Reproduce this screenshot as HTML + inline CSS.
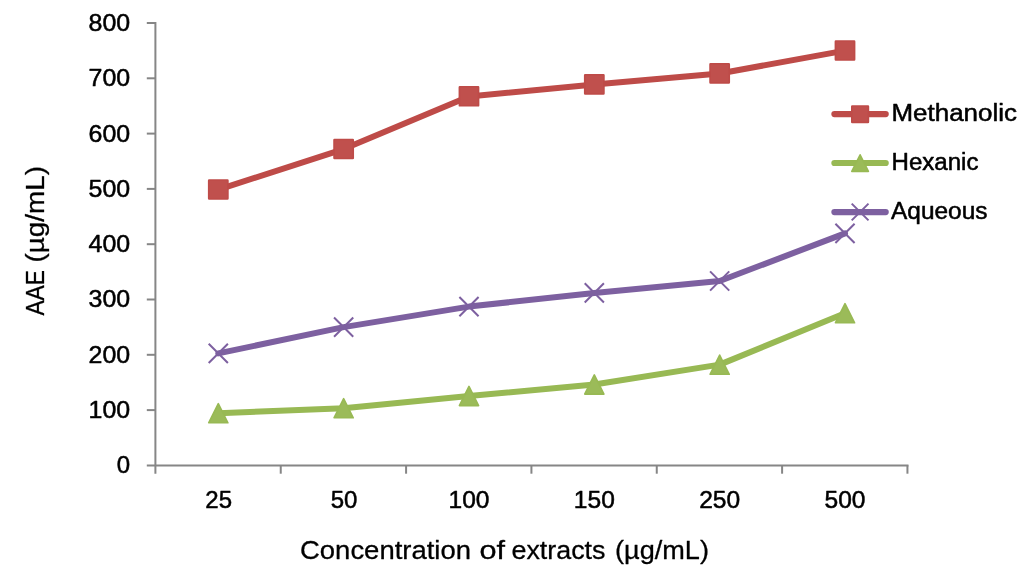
<!DOCTYPE html>
<html><head><meta charset="utf-8"><title>chart</title>
<style>
html,body{margin:0;padding:0;background:#fff;}
body{width:1024px;height:578px;overflow:hidden;font-family:"Liberation Sans",sans-serif;}
svg{display:block;will-change:transform;}
text{font-family:"Liberation Sans",sans-serif;fill:#000;stroke:#000;stroke-width:0.5px;stroke-linejoin:round;}
</style></head><body>
<svg width="1024" height="578" viewBox="0 0 1024 578">
<rect width="1024" height="578" fill="#fff"/>

<g stroke="#868686" stroke-width="2" fill="none">
<path d="M155.4 22 V473.7"/>
<path d="M146.8 465.4 H908.5"/>
<path d="M146.8 410.10 H155.4"/>
<path d="M146.8 354.80 H155.4"/>
<path d="M146.8 299.50 H155.4"/>
<path d="M146.8 244.20 H155.4"/>
<path d="M146.8 188.90 H155.4"/>
<path d="M146.8 133.60 H155.4"/>
<path d="M146.8 78.30 H155.4"/>
<path d="M146.8 23.00 H155.4"/>
<path d="M280.74 465.4 V473.7"/>
<path d="M406.08 465.4 V473.7"/>
<path d="M531.42 465.4 V473.7"/>
<path d="M656.76 465.4 V473.7"/>
<path d="M782.10 465.4 V473.7"/>
<path d="M907.44 465.4 V473.7"/>
</g>
<g font-size="24" text-anchor="end">
<text x="130.2" y="473.30">0</text>
<text x="130.2" y="418.00" textLength="41.6" lengthAdjust="spacingAndGlyphs">100</text>
<text x="130.2" y="362.70" textLength="41.6" lengthAdjust="spacingAndGlyphs">200</text>
<text x="130.2" y="307.40" textLength="41.6" lengthAdjust="spacingAndGlyphs">300</text>
<text x="130.2" y="252.10" textLength="41.6" lengthAdjust="spacingAndGlyphs">400</text>
<text x="130.2" y="196.80" textLength="41.6" lengthAdjust="spacingAndGlyphs">500</text>
<text x="130.2" y="141.50" textLength="41.6" lengthAdjust="spacingAndGlyphs">600</text>
<text x="130.2" y="86.20" textLength="41.6" lengthAdjust="spacingAndGlyphs">700</text>
<text x="130.2" y="30.90" textLength="41.6" lengthAdjust="spacingAndGlyphs">800</text>
</g>
<g font-size="24" text-anchor="middle">
<text x="218.70" y="508.3">25</text>
<text x="344.04" y="508.3">50</text>
<text x="468.98" y="508.3" textLength="41.0" lengthAdjust="spacingAndGlyphs">100</text>
<text x="594.32" y="508.3" textLength="41.0" lengthAdjust="spacingAndGlyphs">150</text>
<text x="719.66" y="508.3" textLength="41.0" lengthAdjust="spacingAndGlyphs">250</text>
<text x="845.00" y="508.3" textLength="41.0" lengthAdjust="spacingAndGlyphs">500</text>
</g>
<text x="300.0" y="558.7" font-size="26" style="stroke-width:0.3px" textLength="171.0" lengthAdjust="spacingAndGlyphs">Concentration</text>
<text x="479.5" y="558.7" font-size="26" style="stroke-width:0.3px" textLength="25.5" lengthAdjust="spacingAndGlyphs">of</text>
<text x="511.5" y="558.7" font-size="26" style="stroke-width:0.3px" textLength="94.0" lengthAdjust="spacingAndGlyphs">extracts</text>
<text x="615.0" y="558.7" font-size="26" style="stroke-width:0.3px" textLength="94.0" lengthAdjust="spacingAndGlyphs">(µg/mL)</text>
<text transform="translate(43.8 315.6) rotate(-90)" font-size="25.5" style="stroke-width:0.3px" textLength="45.6" lengthAdjust="spacingAndGlyphs">AAE</text>
<text transform="translate(43.8 262.6) rotate(-90)" font-size="25.5" style="stroke-width:0.3px" textLength="96.6" lengthAdjust="spacingAndGlyphs">(µg/mL)</text>
<polyline points="218.30,189.60 343.64,149.10 468.98,96.40 594.32,84.50 719.66,73.50 845.00,50.60" fill="none" stroke="#BE4B48" stroke-width="6.0" stroke-linejoin="round" stroke-linecap="round"/>
<rect x="208.70" y="180.00" width="19.2" height="19.0" rx="0.4" fill="#C0504D" stroke="#BE4B48" stroke-width="1.6" stroke-linejoin="round"/>
<rect x="334.04" y="139.50" width="19.2" height="19.0" rx="0.4" fill="#C0504D" stroke="#BE4B48" stroke-width="1.6" stroke-linejoin="round"/>
<rect x="459.38" y="86.80" width="19.2" height="19.0" rx="0.4" fill="#C0504D" stroke="#BE4B48" stroke-width="1.6" stroke-linejoin="round"/>
<rect x="584.72" y="74.90" width="19.2" height="19.0" rx="0.4" fill="#C0504D" stroke="#BE4B48" stroke-width="1.6" stroke-linejoin="round"/>
<rect x="710.06" y="63.90" width="19.2" height="19.0" rx="0.4" fill="#C0504D" stroke="#BE4B48" stroke-width="1.6" stroke-linejoin="round"/>
<rect x="835.40" y="41.00" width="19.2" height="19.0" rx="0.4" fill="#C0504D" stroke="#BE4B48" stroke-width="1.6" stroke-linejoin="round"/>
<polyline points="218.30,413.20 343.64,408.20 468.98,396.00 594.32,384.50 719.66,364.65 845.00,313.20" fill="none" stroke="#98B954" stroke-width="6.0" stroke-linejoin="round" stroke-linecap="round"/>
<path d="M218.30 403.60 L227.90 422.80 H208.70 Z" fill="#9BBB59" stroke="#98B954" stroke-width="1.6" stroke-linejoin="round"/>
<path d="M343.64 398.60 L353.24 417.80 H334.04 Z" fill="#9BBB59" stroke="#98B954" stroke-width="1.6" stroke-linejoin="round"/>
<path d="M468.98 386.40 L478.58 405.60 H459.38 Z" fill="#9BBB59" stroke="#98B954" stroke-width="1.6" stroke-linejoin="round"/>
<path d="M594.32 374.90 L603.92 394.10 H584.72 Z" fill="#9BBB59" stroke="#98B954" stroke-width="1.6" stroke-linejoin="round"/>
<path d="M719.66 355.05 L729.26 374.25 H710.06 Z" fill="#9BBB59" stroke="#98B954" stroke-width="1.6" stroke-linejoin="round"/>
<path d="M845.00 303.60 L854.60 322.80 H835.40 Z" fill="#9BBB59" stroke="#98B954" stroke-width="1.6" stroke-linejoin="round"/>
<polyline points="218.30,353.40 343.64,327.10 468.98,306.60 594.32,292.90 719.66,281.00 845.00,233.40" fill="none" stroke="#7D60A0" stroke-width="6.0" stroke-linejoin="round" stroke-linecap="round"/>
<path d="M208.70 343.80 L227.90 363.00 M208.70 363.00 L227.90 343.80" stroke="#7D60A0" stroke-width="2.0" fill="none" stroke-linecap="butt"/>
<path d="M334.04 317.50 L353.24 336.70 M334.04 336.70 L353.24 317.50" stroke="#7D60A0" stroke-width="2.0" fill="none" stroke-linecap="butt"/>
<path d="M459.38 297.00 L478.58 316.20 M459.38 316.20 L478.58 297.00" stroke="#7D60A0" stroke-width="2.0" fill="none" stroke-linecap="butt"/>
<path d="M584.72 283.30 L603.92 302.50 M584.72 302.50 L603.92 283.30" stroke="#7D60A0" stroke-width="2.0" fill="none" stroke-linecap="butt"/>
<path d="M710.06 271.40 L729.26 290.60 M710.06 290.60 L729.26 271.40" stroke="#7D60A0" stroke-width="2.0" fill="none" stroke-linecap="butt"/>
<path d="M835.40 223.80 L854.60 243.00 M835.40 243.00 L854.60 223.80" stroke="#7D60A0" stroke-width="2.0" fill="none" stroke-linecap="butt"/>
<path d="M834.4 114.1 H885.7" stroke="#BE4B48" stroke-width="6.2" stroke-linecap="round"/>
<path d="M834.4 163.0 H885.7" stroke="#98B954" stroke-width="6.2" stroke-linecap="round"/>
<path d="M834.4 212.1 H885.7" stroke="#7D60A0" stroke-width="6.2" stroke-linecap="round"/>
<rect x="851.80" y="106.00" width="16.6" height="16.4" rx="0.4" fill="#C0504D" stroke="#BE4B48" stroke-width="1.6" stroke-linejoin="round"/>
<path d="M860.10 154.80 L868.40 171.40 H851.80 Z" fill="#9BBB59" stroke="#98B954" stroke-width="1.6" stroke-linejoin="round"/>
<path d="M851.70 203.60 L868.50 220.40 M851.70 220.40 L868.50 203.60" stroke="#7D60A0" stroke-width="2.0" fill="none" stroke-linecap="butt"/>
<g font-size="23">
<text x="891.5" y="121.1" textLength="125.5" lengthAdjust="spacingAndGlyphs">Methanolic</text>
<text x="891.5" y="170.1" textLength="87" lengthAdjust="spacingAndGlyphs">Hexanic</text>
<text x="891.0" y="218.6" textLength="96.5" lengthAdjust="spacingAndGlyphs">Aqueous</text>
</g>
</svg></body></html>
